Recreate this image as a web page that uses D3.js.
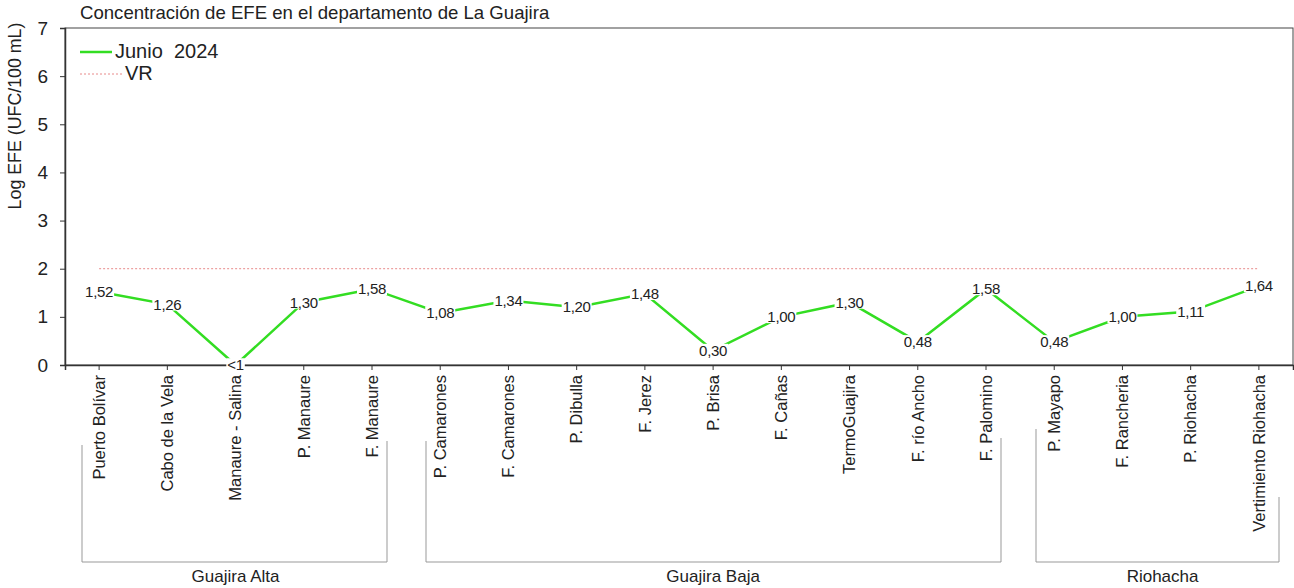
<!DOCTYPE html>
<html>
<head>
<meta charset="utf-8">
<script src="https://cdn.jsdelivr.net/npm/d3@7"></script>
<style>
  body { margin: 0; background: #fff; }
  text { font-family: "Liberation Sans", Arial, sans-serif; fill: #222; }
</style>
</head>
<body>
<svg id="vis"></svg>
<script>
const WIDTH = 1294;
const HEIGHT = 588;

// estaciones y valores (Log EFE)
const estaciones = ["Puerto Bolívar", "Cabo de la Vela", "Manaure - Salina", "P. Manaure", "F. Manaure",
  "P. Camarones", "F. Camarones", "P. Dibulla", "F. Jerez", "P. Brisa", "F. Cañas", "TermoGuajira",
  "F. río Ancho", "F. Palomino", "P. Mayapo", "F. Rancheria", "P. Riohacha", "Vertimiento Riohacha"];
const junio2024 = [1.52, 1.26, 0, 1.30, 1.58, 1.08, 1.34, 1.20, 1.48, 0.30, 1.00, 1.30, 0.48, 1.58, 0.48, 1.00, 1.11, 1.64];
const etiquetas = ["1,52", "1,26", "<1", "1,30", "1,58", "1,08", "1,34", "1,20", "1,48", "0,30", "1,00", "1,30",
  "0,48", "1,58", "0,48", "1,00", "1,11", "1,64"];
const VR = 2;
const yTicks = [0, 1, 2, 3, 4, 5, 6, 7];

// grupos: primera y ultima estacion
const grupos = ["Guajira Alta", "Guajira Baja", "Riohacha"];
const grupoInicio = ["Puerto Bolívar", "P. Camarones", "P. Mayapo"];
const grupoFin = ["F. Manaure", "F. Palomino", "Vertimiento Riohacha"];

const margin = { left: 65, top: 28, right: 1, bottom: 223 };

const svg = d3.select("#vis")
  .attr("width", WIDTH)
  .attr("height", HEIGHT);

const x = d3.scaleBand()
  .domain(estaciones)
  .range([margin.left, WIDTH - margin.right]);

const y = d3.scaleLinear()
  .domain([0, 7])
  .range([HEIGHT - margin.bottom, margin.top]);

const cx = d => x(d) + x.bandwidth() / 2;

// marco
svg.append("rect")
  .attr("x", margin.left)
  .attr("y", margin.top)
  .attr("width", WIDTH - margin.right - margin.left)
  .attr("height", y(0) - margin.top)
  .attr("fill", "none")
  .attr("stroke", "#444")
  .attr("stroke-width", 1);

// eje Y
const ejeY = d3.axisLeft(y).tickValues(yTicks).tickFormat(d3.format("d")).tickSize(5).tickPadding(12);
svg.append("g")
  .attr("transform", `translate(${margin.left},0)`)
  .call(ejeY)
  .call(g => g.select(".domain").attr("stroke", "#333").attr("stroke-width", 1.5))
  .call(g => g.selectAll(".tick line").attr("stroke", "#333"))
  .call(g => g.selectAll(".tick text")
    .attr("font-size", 19)
    .attr("font-family", "Liberation Sans, Arial, sans-serif")
    .attr("fill", "#222"));

// eje X
const ejeX = d3.axisBottom(x).tickSize(5).tickPadding(6);
svg.append("g")
  .attr("transform", `translate(0,${y(0)})`)
  .call(ejeX)
  .call(g => g.select(".domain").attr("stroke", "#333").attr("stroke-width", 1.5))
  .call(g => g.selectAll(".tick line").attr("stroke", "#333"))
  .call(g => g.selectAll(".tick text")
    .attr("font-size", 16.5)
    .attr("font-family", "Liberation Sans, Arial, sans-serif")
    .attr("fill", "#222")
    .attr("text-anchor", "end")
    .attr("transform", "rotate(-90)")
    .attr("x", -10)
    .attr("y", 0)
    .attr("dy", "0.35em"));

// linea VR
svg.append("line")
  .attr("x1", cx(estaciones[0]))
  .attr("x2", cx(estaciones[estaciones.length - 1]))
  .attr("y1", y(VR))
  .attr("y2", y(VR))
  .attr("stroke", "#e88a8a")
  .attr("stroke-width", 1)
  .attr("stroke-dasharray", "2,2");

// serie
const datos = estaciones.map((e, i) => ({ est: e, v: junio2024[i], lab: etiquetas[i] }));

const linea = d3.line()
  .x(d => cx(d.est))
  .y(d => y(d.v));

svg.append("path")
  .datum(datos)
  .attr("d", linea)
  .attr("fill", "none")
  .attr("stroke", "#33dd22")
  .attr("stroke-width", 2.5);

// etiquetas de datos con fondo blanco
const labs = svg.selectAll(".lab")
  .data(datos)
  .join("g")
  .attr("class", "lab")
  .attr("transform", d => `translate(${cx(d.est)},${y(d.v)})`);

labs.append("text")
  .attr("text-anchor", "middle")
  .attr("dy", "0.35em")
  .attr("font-size", 15)
  .attr("letter-spacing", -0.3)
  .text(d => d.lab)
  .each(function () {
    const b = this.getBBox();
    d3.select(this.parentNode).insert("rect", "text")
      .attr("x", b.x - 1)
      .attr("y", b.y + 2)
      .attr("width", b.width + 2)
      .attr("height", b.height - 4)
      .attr("fill", "#fff");
  });

// titulo
svg.append("text")
  .attr("x", 80)
  .attr("y", 19)
  .attr("font-size", 18.6)
  .text("Concentración de EFE en el departamento de La Guajira");

// titulo eje Y
svg.append("text")
  .attr("transform", `translate(21,116) rotate(-90)`)
  .attr("text-anchor", "middle")
  .attr("font-size", 17.8)
  .text("Log EFE (UFC/100 mL)");

// leyenda
svg.append("line")
  .attr("x1", 80).attr("x2", 112)
  .attr("y1", 52).attr("y2", 52)
  .attr("stroke", "#33dd22").attr("stroke-width", 2.5);
svg.append("text")
  .attr("x", 115).attr("y", 58)
  .attr("font-size", 20)
  .attr("xml:space", "preserve")
  .style("white-space", "pre")
  .text("Junio  2024");
svg.append("line")
  .attr("x1", 80).attr("x2", 122)
  .attr("y1", 74).attr("y2", 74)
  .attr("stroke", "#e88a8a").attr("stroke-width", 1)
  .attr("stroke-dasharray", "2,2");
svg.append("text")
  .attr("x", 125).attr("y", 80)
  .attr("font-size", 20)
  .text("VR");

// corchetes de grupos
const baseY = 562;
const izq = [82, 426, 1036];
const der = [387, 1001, 1279];
const topIzq = [445, 441, 429];
const topDer = [441, 438, 497];

grupos.forEach((g, i) => {
  svg.append("path")
    .attr("d", `M${izq[i]},${topIzq[i]}V${baseY}H${der[i]}V${topDer[i]}`)
    .attr("fill", "none")
    .attr("stroke", "#999")
    .attr("stroke-width", 1);
  svg.append("text")
    .attr("x", (cx(grupoInicio[i]) + cx(grupoFin[i])) / 2 + (i === 2 ? 6 : 0))
    .attr("y", 582)
    .attr("text-anchor", "middle")
    .attr("font-size", 17)
    .text(g);
});
</script>
</body>
</html>
